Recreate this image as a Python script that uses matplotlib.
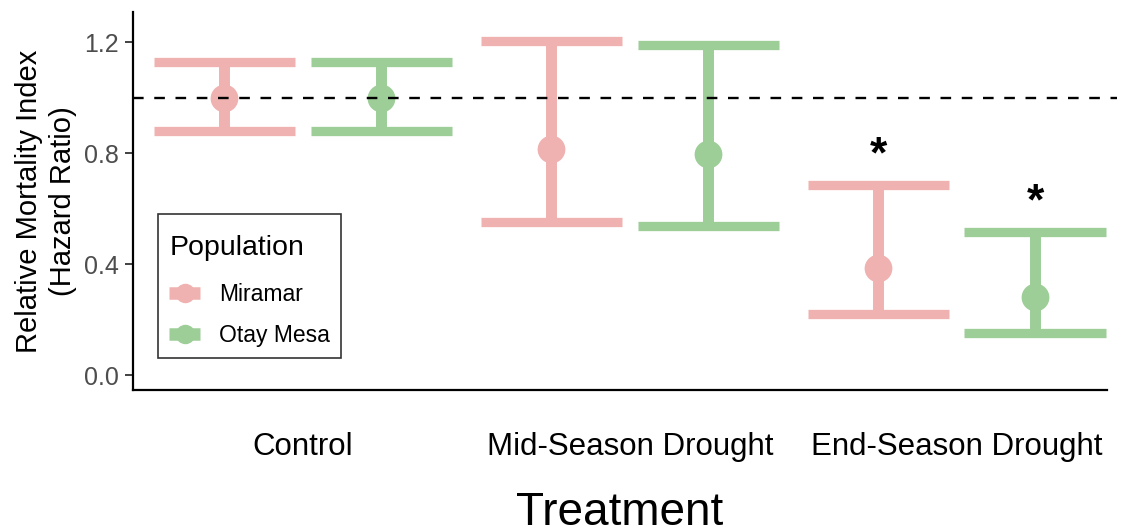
import matplotlib
matplotlib.use("Agg")
import matplotlib.pyplot as plt
from matplotlib.lines import Line2D
from matplotlib.offsetbox import VPacker, DrawingArea
import numpy as np

plt.rcParams['font.family'] = ['Liberation Sans', 'DejaVu Sans']

# ---- data ----
categories = ['Control', 'Mid-Season Drought', 'End-Season Drought']
populations = ['Miramar', 'Otay Mesa']
miramar_hr = [1.000, 0.814, 0.388]
miramar_lo = [0.881, 0.552, 0.219]
miramar_hi = [1.130, 1.203, 0.685]
miramar_sig = [False, False, True]
otay_hr = [1.000, 0.798, 0.281]
otay_lo = [0.878, 0.537, 0.154]
otay_hi = [1.130, 1.191, 0.516]
otay_sig = [False, False, True]
reference_hr = 1.0
y_ticks = [0.0, 0.4, 0.8, 1.2]
y_ticklabels = ['0.0', '0.4', '0.8', '1.2']

colors = ['#EFB2B0', '#9DCE98']
series = [
    (miramar_hr, miramar_lo, miramar_hi, miramar_sig),
    (otay_hr, otay_lo, otay_hi, otay_sig),
]

fig = plt.figure(figsize=(11.22, 5.31), dpi=100)
ax = fig.add_axes([0.1185, 0.2655, 0.8681, 0.7115])

base = np.arange(1, len(categories) + 1)
dodge = 0.24
half_cap = 0.216

for i, (hr, lo, hi, sig) in enumerate(series):
    xs = base + (i - 0.5) * 2 * dodge
    hr = np.asarray(hr); lo = np.asarray(lo); hi = np.asarray(hi)
    c = colors[i]
    ax.vlines(xs, lo, hi, color=c, lw=7.9, zorder=2)
    ax.hlines(lo, xs - half_cap, xs + half_cap, color=c, lw=6.7, zorder=2,
              capstyle='butt')
    ax.hlines(hi, xs - half_cap, xs + half_cap, color=c, lw=6.7, zorder=2,
              capstyle='butt')
    ax.plot(xs, hr, 'o', color=c, markersize=20, markeredgewidth=0, zorder=3)
    for x, h, s in zip(xs, hi, sig):
        if s:
            ax.text(x, h + 0.105, '*', ha='center', va='center',
                    fontsize=32, fontweight='bold', color='black', zorder=5)

ax.axhline(reference_hr, xmin=0, xmax=1.01, color='black', lw=1.7,
           dashes=(4.5, 4.5), zorder=4, clip_on=False)

ax.set_xlim(0.48, 3.46)
ax.set_ylim(-0.053, 1.3075)
ax.set_xticks(base)
ax.set_xticklabels(categories, fontsize=22.5, color='black')
ax.tick_params(axis='x', length=0, pad=30)
ax.set_yticks(y_ticks)
ax.set_yticklabels(y_ticklabels, fontsize=18, color='#4D4D4D')
ax.tick_params(axis='y', length=6, width=1.3, pad=4, color='#333333')

for s in ['top', 'right']:
    ax.spines[s].set_visible(False)
for s in ['left', 'bottom']:
    ax.spines[s].set_linewidth(1.6)
    ax.spines[s].set_color('black')

ax.set_ylabel('Relative Mortality Index\n(Hazard Ratio)', fontsize=21,
              linespacing=1.3, labelpad=5)
ax.set_xlabel('Treatment', fontsize=33, labelpad=21)

handles = [Line2D([0], [0], color=colors[i], lw=9, marker='o', markersize=14,
                  markeredgewidth=0, solid_capstyle='butt')
           for i in range(len(populations))]
leg = ax.legend(handles, populations, title='Population', loc='lower left',
                bbox_to_anchor=(0.0257, 0.0847), borderaxespad=0,
                fontsize=16.5, title_fontsize=20.5, frameon=True, fancybox=False,
                handlelength=1.35, handletextpad=0.8, labelspacing=0.75,
                borderpad=0.5, alignment='left')
leg.get_frame().set_edgecolor('black')
leg.get_frame().set_linewidth(1.2)
# extra space above the legend title (ggplot-like legend margins)
title_box = leg._legend_box._children[0]
leg._legend_box._children[0] = VPacker(children=[DrawingArea(1, 7), title_box],
                                       pad=0, sep=0, align='left')
leg._legend_box.sep = 16

fig.savefig('out.png', dpi=100)
